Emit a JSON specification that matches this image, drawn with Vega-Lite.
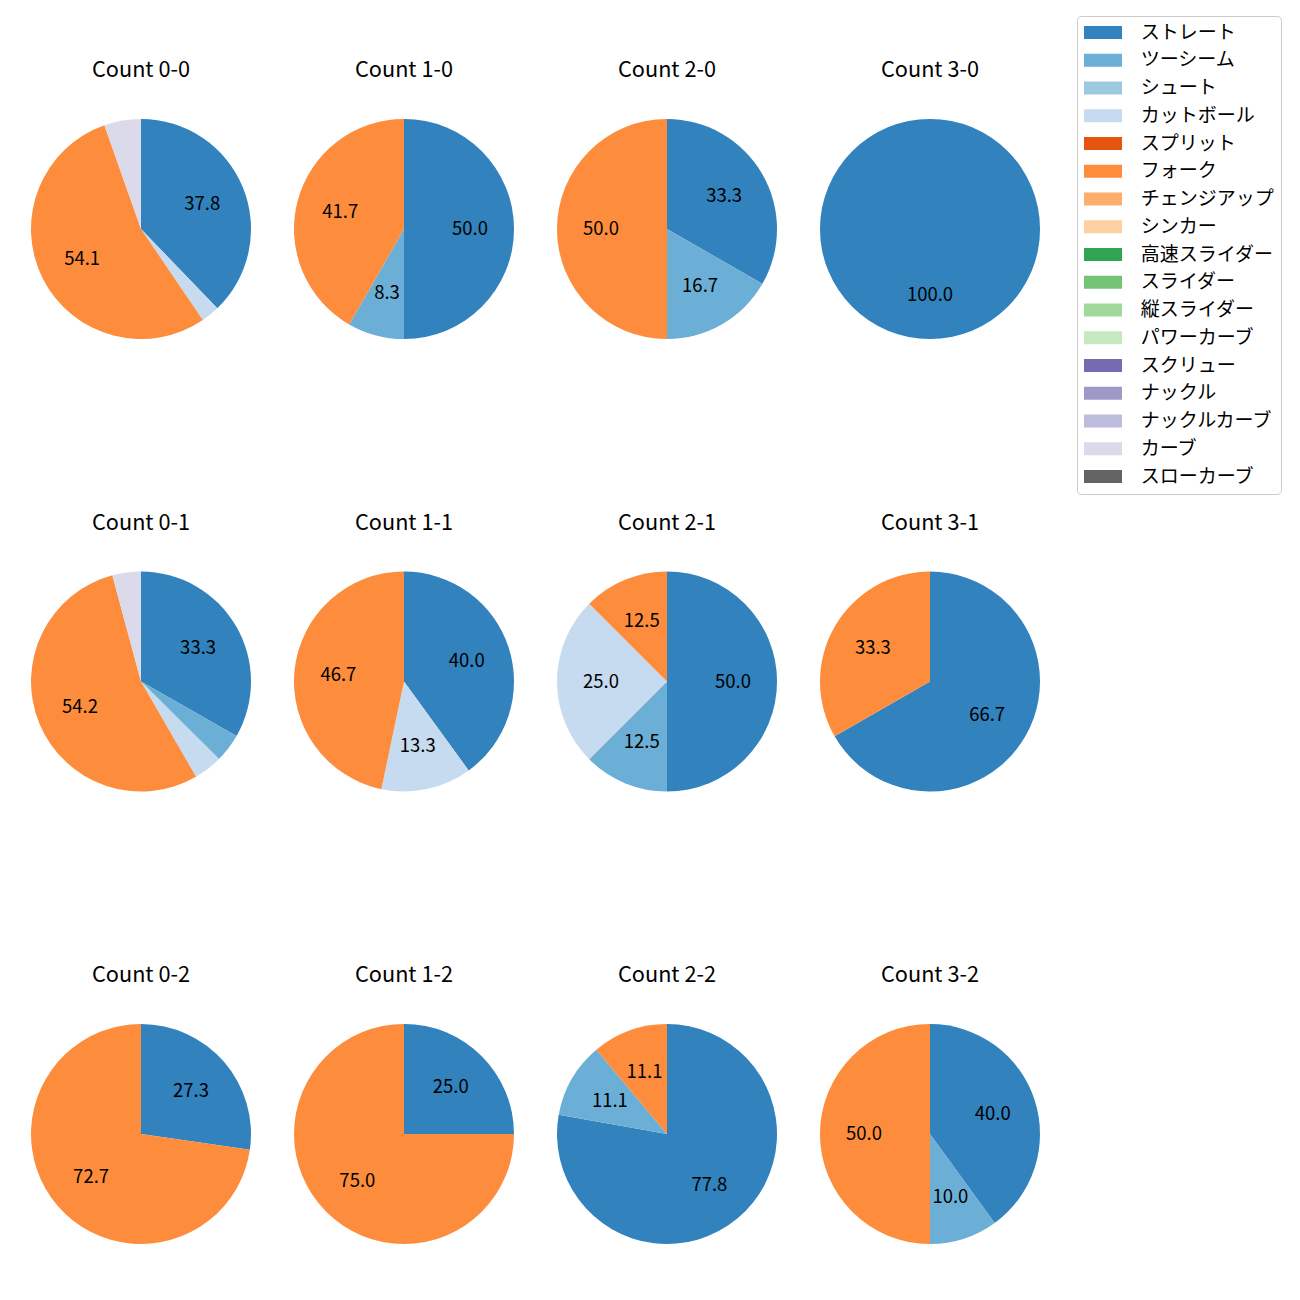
{
  "$schema": "https://vega.github.io/schema/vega-lite/v6.json",
  "padding": {"left": 31, "top": 15, "right": 5, "bottom": 5},
  "background": "white",
  "data": {"values": [
    {"c": "Count 0-0", "p": "ストレート", "k": 0, "v": 37.8},
    {"c": "Count 0-0", "p": "カットボール", "k": 3, "v": 2.7},
    {"c": "Count 0-0", "p": "フォーク", "k": 5, "v": 54.1},
    {"c": "Count 0-0", "p": "カーブ", "k": 15, "v": 5.4},
    {"c": "Count 1-0", "p": "ストレート", "k": 0, "v": 50.0},
    {"c": "Count 1-0", "p": "ツーシーム", "k": 1, "v": 8.3},
    {"c": "Count 1-0", "p": "フォーク", "k": 5, "v": 41.7},
    {"c": "Count 2-0", "p": "ストレート", "k": 0, "v": 33.3},
    {"c": "Count 2-0", "p": "ツーシーム", "k": 1, "v": 16.7},
    {"c": "Count 2-0", "p": "フォーク", "k": 5, "v": 50.0},
    {"c": "Count 3-0", "p": "ストレート", "k": 0, "v": 100.0},
    {"c": "Count 0-1", "p": "ストレート", "k": 0, "v": 33.3},
    {"c": "Count 0-1", "p": "ツーシーム", "k": 1, "v": 4.2},
    {"c": "Count 0-1", "p": "カットボール", "k": 3, "v": 4.2},
    {"c": "Count 0-1", "p": "フォーク", "k": 5, "v": 54.2},
    {"c": "Count 0-1", "p": "カーブ", "k": 15, "v": 4.2},
    {"c": "Count 1-1", "p": "ストレート", "k": 0, "v": 40.0},
    {"c": "Count 1-1", "p": "カットボール", "k": 3, "v": 13.3},
    {"c": "Count 1-1", "p": "フォーク", "k": 5, "v": 46.7},
    {"c": "Count 2-1", "p": "ストレート", "k": 0, "v": 50.0},
    {"c": "Count 2-1", "p": "ツーシーム", "k": 1, "v": 12.5},
    {"c": "Count 2-1", "p": "カットボール", "k": 3, "v": 25.0},
    {"c": "Count 2-1", "p": "フォーク", "k": 5, "v": 12.5},
    {"c": "Count 3-1", "p": "ストレート", "k": 0, "v": 66.7},
    {"c": "Count 3-1", "p": "フォーク", "k": 5, "v": 33.3},
    {"c": "Count 0-2", "p": "ストレート", "k": 0, "v": 27.3},
    {"c": "Count 0-2", "p": "フォーク", "k": 5, "v": 72.7},
    {"c": "Count 1-2", "p": "ストレート", "k": 0, "v": 25.0},
    {"c": "Count 1-2", "p": "フォーク", "k": 5, "v": 75.0},
    {"c": "Count 2-2", "p": "ストレート", "k": 0, "v": 77.8},
    {"c": "Count 2-2", "p": "ツーシーム", "k": 1, "v": 11.1},
    {"c": "Count 2-2", "p": "フォーク", "k": 5, "v": 11.1},
    {"c": "Count 3-2", "p": "ストレート", "k": 0, "v": 40.0},
    {"c": "Count 3-2", "p": "ツーシーム", "k": 1, "v": 10.0},
    {"c": "Count 3-2", "p": "フォーク", "k": 5, "v": 50.0}
  ]},
  "facet": {
    "field": "c",
    "type": "nominal",
    "title": null,
    "sort": ["Count 0-0", "Count 1-0", "Count 2-0", "Count 3-0", "Count 0-1", "Count 1-1", "Count 2-1", "Count 3-1", "Count 0-2", "Count 1-2", "Count 2-2", "Count 3-2"],
    "header": {"labelFontSize": 21.7, "labelFont": "Noto Sans CJK JP", "labelColor": "#000000", "labelPadding": 37, "labelOrient": "top"}
  },
  "columns": 4,
  "spacing": {"column": 43, "row": 173.5},
  "resolve": {"scale": {"theta": "independent"}},
  "spec": {
    "width": 220,
    "height": 220,
    "encoding": {
      "theta": {"field": "v", "type": "quantitative", "stack": true},
      "order": {"field": "k", "type": "quantitative"}
    },
    "layer": [
      {
        "mark": {"type": "arc", "outerRadius": 110, "strokeWidth": 0},
        "encoding": {
          "color": {
            "field": "p",
            "type": "nominal",
            "scale": {
              "domain": ["ストレート", "ツーシーム", "シュート", "カットボール", "スプリット", "フォーク", "チェンジアップ", "シンカー", "高速スライダー", "スライダー", "縦スライダー", "パワーカーブ", "スクリュー", "ナックル", "ナックルカーブ", "カーブ", "スローカーブ"],
              "range": ["#3182bd", "#6baed6", "#9ecae1", "#c6dbef", "#e6550d", "#fd8d3c", "#fdae6b", "#fdd0a2", "#31a354", "#74c476", "#a1d99b", "#c7e9c0", "#756bb1", "#9e9ac8", "#bcbddc", "#dadaeb", "#636363"]
            },
            "legend": {
              "title": null,
              "orient": "none",
              "legendX": 1046,
              "legendY": -103,
              "padding": 7,
              "fillColor": "white",
              "strokeColor": "#cccccc",
              "cornerRadius": 4,
              "labelFont": "Noto Sans CJK JP",
              "labelFontSize": 19,
              "labelColor": "#000000",
              "labelOffset": 37.7,
              "rowPadding": 7.75,
              "symbolType": "M-1,-0.684L3,-0.684L3,0.684L-1,0.684Z",
              "symbolSize": 361,
              "symbolStrokeWidth": 0,
              "symbolOpacity": 1
            }
          }
        }
      },
      {
        "mark": {"type": "text", "radius": 66, "font": "Noto Sans CJK JP", "fontSize": 18.5, "color": "#000000", "align": "center", "baseline": "middle"},
        "encoding": {
          "text": {"field": "v", "type": "quantitative", "format": ".1f"},
          "opacity": {"condition": {"test": "datum.v < 6", "value": 0}, "value": 1}
        }
      }
    ]
  },
  "config": {"view": {"stroke": null}}
}
